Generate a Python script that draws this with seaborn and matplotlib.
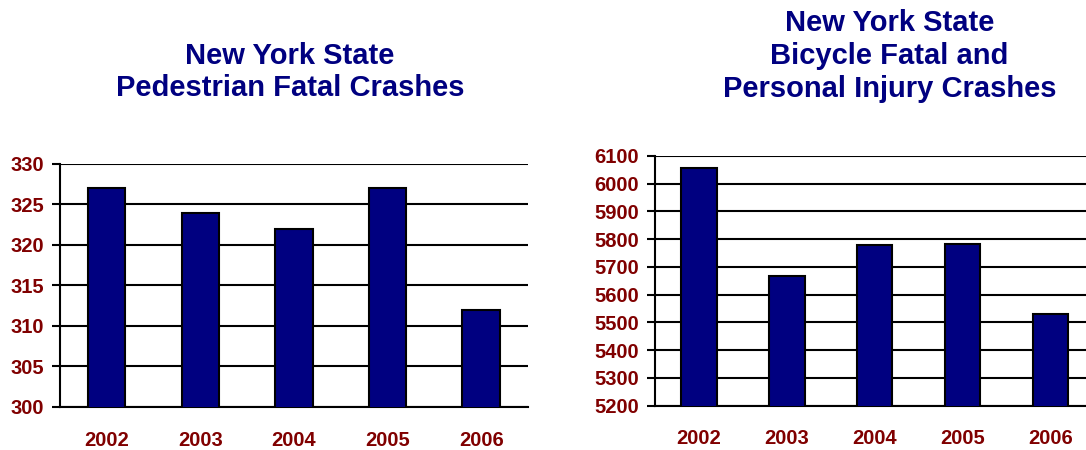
import numpy as np
import pandas as pd
import matplotlib
matplotlib.use("Agg")
import matplotlib.pyplot as plt
import seaborn as sns

years = ["2002", "2003", "2004", "2005", "2006"]
pedestrian_fatal = [327, 324, 322, 327, 312]
bicycle_crashes = [6058, 5666, 5780, 5784, 5530]

ped_ticks = [300, 305, 310, 315, 320, 325, 330]
bike_ticks = [5200, 5300, 5400, 5500, 5600, 5700, 5800, 5900, 6000, 6100]

sns.set_style("white")
plt.rcParams['font.family'] = ['Liberation Sans', 'DejaVu Sans']

NAVY = "#000080"
MAROON = "#800000"

fig = plt.figure(figsize=(10.86, 4.5), dpi=100)
ax1 = fig.add_axes([0.0552, 0.0956, 0.431, 0.54])
ax2 = fig.add_axes([0.6031, 0.0984, 0.405, 0.555])


def style_axis(ax, values, ticks):
    df = pd.DataFrame({"year": years, "value": values})
    sns.barplot(data=df, x="year", y="value", color=NAVY, edgecolor="black",
                linewidth=1.5, width=0.4, saturation=1, ax=ax, zorder=3)
    ax.set_ylim(ticks[0], ticks[-1])
    ax.set_xlim(-0.5, 4.5)
    ax.set_yticks(ticks)
    ax.set_yticklabels([str(t) for t in ticks])
    ax.set_xlabel("")
    ax.set_ylabel("")
    ax.yaxis.grid(True, color="black", linewidth=1.5, zorder=0)
    ax.set_axisbelow(True)
    for side in ["top", "right"]:
        ax.spines[side].set_visible(False)
    for side in ["left", "bottom"]:
        ax.spines[side].set_color("black")
        ax.spines[side].set_linewidth(1.5)
    ax.set_xticks(np.arange(-0.5, 5, 1), minor=True)
    ax.tick_params(axis="x", which="major", length=0, pad=17)
    ax.tick_params(axis="x", which="minor", length=6, width=1.5, color="black", direction="out")
    ax.tick_params(axis="y", length=5.5, width=1.5, color="black", direction="out", left=True, pad=6)
    for lab in ax.get_xticklabels() + ax.get_yticklabels():
        lab.set_color(MAROON)
        lab.set_fontweight("bold")
        lab.set_fontsize(14.5)


style_axis(ax1, pedestrian_fatal, ped_ticks)
style_axis(ax2, bicycle_crashes, bike_ticks)

fig.text(0.267, 0.84, "New York State\nPedestrian Fatal Crashes", ha="center", va="center",
         fontsize=21, fontweight="bold", color=NAVY, linespacing=1.22)
fig.text(0.819, 0.875, "New York State\nBicycle Fatal and\nPersonal Injury Crashes", ha="center",
         va="center", fontsize=21, fontweight="bold", color=NAVY, linespacing=1.22)

fig.savefig("out.png", dpi=100)
